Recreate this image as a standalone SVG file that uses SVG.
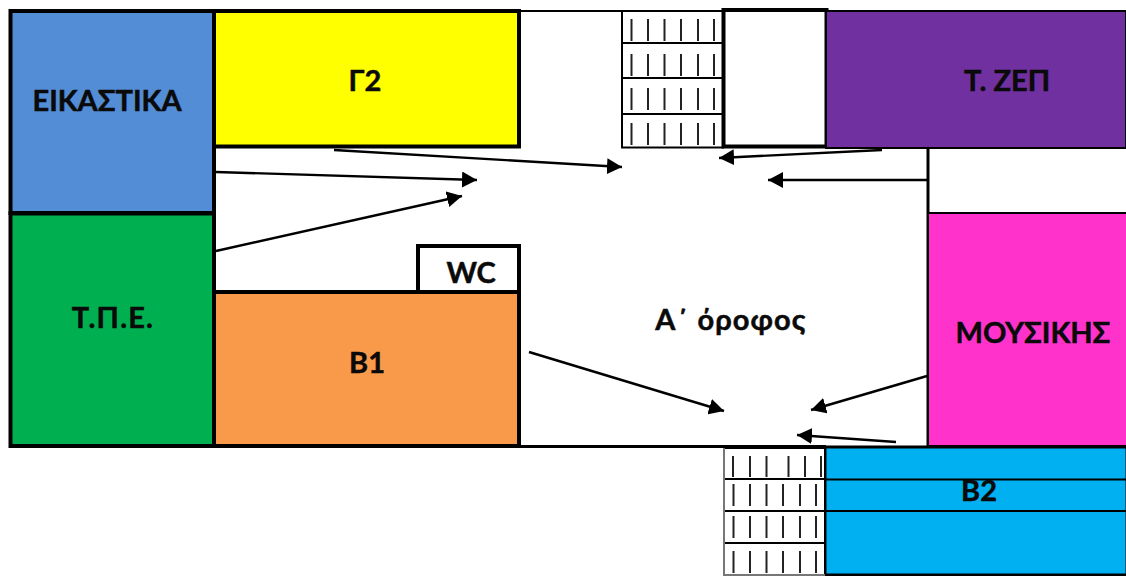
<svg xmlns="http://www.w3.org/2000/svg" width="1126" height="576" viewBox="0 0 1126 576">
<style>
text{font-family:Lato,"Open Sans",sans-serif;font-weight:700;font-size:29px;fill:#0a0a0a;stroke:#0a0a0a;stroke-width:.5;text-anchor:middle}
.r{stroke:#000;stroke-width:4}
.c{stroke:#000;stroke-width:2.4;fill:none;marker-end:url(#a)}
.t{stroke:#222;stroke-width:2}
.s{fill:#fff;stroke:#000;stroke-width:2}
</style>
<defs>
<marker id="a" markerUnits="userSpaceOnUse" markerWidth="16" markerHeight="16" refX="15" refY="8" orient="auto"><path d="M0 0L15 8L0 16Z" fill="#000"/></marker>
<g id="ticks"><path class="t" d="M631.500 19V41M648 19V41M664.500 19V41M681 19V41M698 19V41M714 19V41"/></g>
</defs>
<rect width="1126" height="576" fill="#fff"/>
<g id="outline"><path d="M520 11H1126" stroke="#000" stroke-width="2" fill="none"/><path d="M928 147V446M520 446.500H826" stroke="#000" stroke-width="3" fill="none"/></g>
<g id="eikastika"><rect class="r" x="10.500" y="11" width="203.500" height="202" fill="#528dd6"/><text x="107" y="111">ΕΙΚΑΣΤΙΚΑ</text></g>
<g id="tpe"><rect class="r" x="10.500" y="213.500" width="203.500" height="232.500" fill="#00b050"/><text x="113" y="328" letter-spacing="1.200">Τ.Π.Ε.</text></g>
<g id="g2"><rect class="r" x="214" y="11" width="305" height="135.500" fill="#ff0"/><text x="365" y="91">Γ2</text></g>
<g id="b1"><rect class="r" x="214" y="292" width="305" height="154" fill="#f99a4a"/><text x="367" y="373">Β1</text></g>
<g id="wc"><rect class="r" x="418" y="246" width="101" height="46" fill="#fff"/><text x="471" y="283">WC</text></g>
<g id="stairs-top">
<rect class="s" x="622" y="11" width="101" height="32"/><rect class="s" x="622" y="43" width="101" height="35"/><rect class="s" x="622" y="78" width="101" height="36"/><rect class="s" x="622" y="114" width="101" height="33.500"/>
<use href="#ticks"/><use href="#ticks" y="35"/><use href="#ticks" y="69"/><use href="#ticks" y="104"/>
</g>
<g id="closet"><rect class="r" x="723.500" y="10" width="103" height="136.500" fill="#fff"/></g>
<g id="tzep"><rect x="826" y="11" width="300" height="137" fill="#7030a0" stroke="#000" stroke-width="2"/><text x="1007" y="91">Τ. ΖΕΠ</text></g>
<g id="mousikis"><rect x="928" y="213" width="199" height="233" fill="#ff33cc" stroke="#000" stroke-width="2"/><text x="1033" y="343">ΜΟΥΣΙΚΗΣ</text></g>
<g id="b2"><rect x="825" y="447" width="302" height="128" fill="#00b0f0" stroke="#000" stroke-width="3"/><path d="M825 479.500H1126M825 511H1126" stroke="#000" stroke-width="2"/><text x="979" y="501">Β2</text></g>
<g id="stairs-bottom">
<rect class="s" x="724" y="448" width="101" height="31" stroke="#555"/><rect class="s" x="724" y="479" width="101" height="32"/><rect class="s" x="724" y="511" width="101" height="32"/><rect class="s" x="724" y="543" width="101" height="32"/>
<path d="M724 448V575H825" stroke="#777" stroke-width="2" fill="none"/>
<path class="t" d="M733 456V477M750 456V477M766.500 456V477M788.500 456V477M805 456V477M821 456V477"/>
<use href="#ticks" x="102" y="465"/><use href="#ticks" x="102" y="497"/><use href="#ticks" x="102" y="532"/>
</g>
<text x="731" y="330" letter-spacing="1.100">Α΄ όροφος</text>
<g id="connectors">
<path class="c" d="M334 150L622 167"/>
<path class="c" d="M216 172L477 180"/>
<path class="c" d="M216 251L462 196"/>
<path class="c" d="M882 150L719 158"/>
<path class="c" d="M927 180H768"/>
<path class="c" d="M529 352L724 411"/>
<path class="c" d="M927 376L811 410"/>
<path class="c" d="M896 442L797 435"/>
</g>
</svg>
